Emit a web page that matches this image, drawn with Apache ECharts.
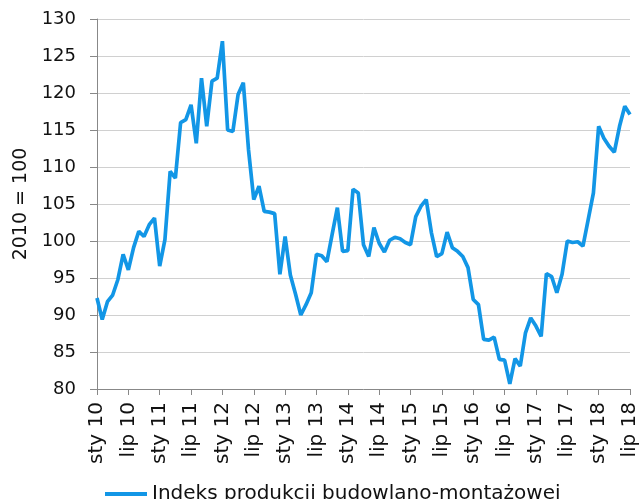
<!DOCTYPE html>
<html><head><meta charset="utf-8">
<script src="https://cdn.jsdelivr.net/npm/echarts@6/dist/echarts.min.js"></script>
<style>html,body{margin:0;padding:0;background:#fff}#c{width:640px;height:499px}</style>
</head><body><div id="c"></div>
<script>
const monthNames = ['sty','lut','mar','kwi','maj','cze','lip','sie','wrz','paź','lis','gru'];
const years = [10,11,12,13,14,15,16,17,18];
const seriesName = 'Indeks produkcji budowlano-montażowej';
const values = [
  92.3, 89.4, 91.8, 92.7, 94.8, 98.2, 96.1, 99.1, 101.3, 100.6, 102.2, 103.1,
  96.6, 100.2, 109.4, 108.5, 116.0, 116.4, 118.4, 113.2, 122.0, 115.5, 121.6, 122.0,
  127.0, 115.0, 114.8, 119.8, 121.4, 112.3, 105.6, 107.4, 104.0, 103.9, 103.7, 95.5,
  100.6, 95.4, 92.8, 90.0, 91.4, 93.0, 98.2, 98.0, 97.2, 100.9, 104.5, 98.6,
  98.7, 107.0, 106.5, 99.5, 97.9, 101.8, 99.7, 98.5, 100.1, 100.5, 100.3, 99.8,
  99.5, 103.3, 104.7, 105.6, 101.1, 97.9, 98.3, 101.2, 99.1, 98.6, 97.9, 96.4,
  92.1, 91.4, 86.7, 86.6, 87.0, 84.0, 83.9, 80.7, 84.1, 83.1, 87.6, 89.6,
  88.5, 87.1, 95.6, 95.2, 93.0, 95.5, 100.0, 99.8, 99.9, 99.3, 102.9, 106.5,
  115.5, 113.9, 112.8, 112.0, 115.5, 118.2, 117.1
];
const categories = [];
for (const y of years) for (const m of monthNames) {
  if (categories.length < values.length) categories.push(m + ' ' + y);
}
const yMin = 80, yMax = 130, yStep = 5;
const font = 'DejaVu Sans, Verdana, sans-serif';
const chart = echarts.init(document.getElementById('c'), null, {renderer:'canvas'});
chart.setOption({
  animation: false,
  grid: {left: 97, right: 4, top: 19, bottom: 110, containLabel: false},
  legend: {
    top: 479, left: 100,
    icon: 'rect', itemWidth: 42, itemHeight: 4, itemGap: 4,
    textStyle: {fontFamily: font, fontSize: 20, color: '#111'},
    data: [seriesName]
  },
  xAxis: {
    type: 'category', data: categories, boundaryGap: false,
    axisLine: {lineStyle: {color: '#888', width: 1}},
    axisTick: {show: true, interval: 5, length: 6, lineStyle: {color: '#888'}},
    axisLabel: {interval: 5, rotate: 90, fontFamily: font, fontSize: 20, color: '#111', margin: 13},
    splitLine: {show: false}
  },
  yAxis: {
    type: 'value', min: yMin, max: yMax, interval: yStep,
    name: '2010 = 100', nameLocation: 'middle', nameGap: 63, nameRotate: 90,
    nameTextStyle: {fontFamily: font, fontSize: 19, color: '#111'},
    axisLine: {show: true, lineStyle: {color: '#888', width: 1}},
    axisTick: {show: true, length: 7, lineStyle: {color: '#888'}},
    axisLabel: {fontFamily: font, fontSize: 18, color: '#111', margin: 21},
    splitLine: {lineStyle: {color: '#d0d0d0', width: 1}}
  },
  series: [{
    name: seriesName, type: 'line', data: values,
    showSymbol: false, symbol: 'none',
    lineStyle: {color: '#1296e6', width: 3.7},
    itemStyle: {color: '#1296e6'}
  }]
});
</script></body></html>
